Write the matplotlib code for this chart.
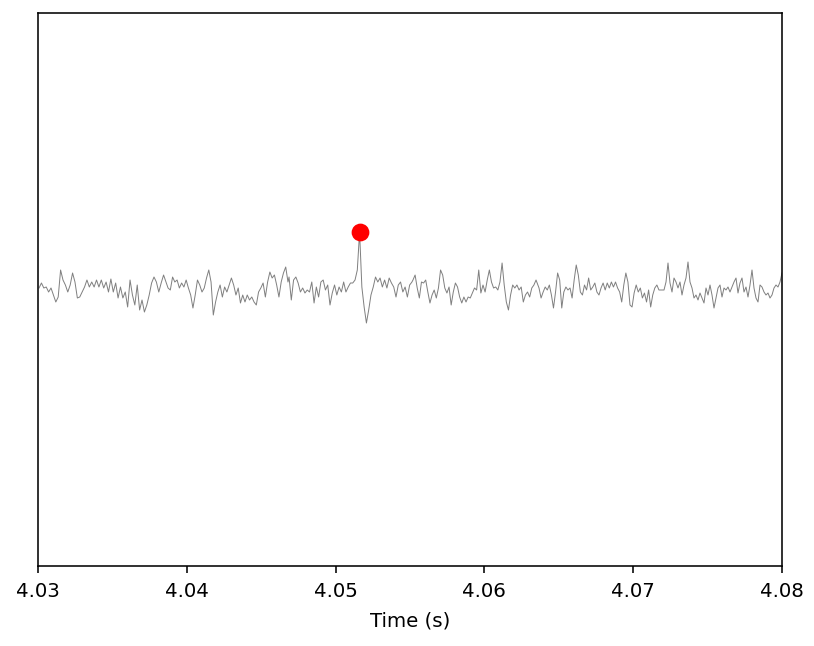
import numpy as np
import matplotlib
matplotlib.use("Agg")
import matplotlib.pyplot as plt

# ----------------------------------------------------
# Trace values, in six consecutive chunks
# (arbitrary amplitude units, baseline at 0)
# ----------------------------------------------------

chunk_1 = [1, 6, 1, 2, -3, 1, -6, -13, -8, 19, 9, 4, -3, 4, 16, 7, -9, -8, -3, 2,
           9, 2, 7, 2, 9, 2, 9, 1, 7, -3, 10, -3, 6, -9, 2, -9, -3, -18, 9, -6,
           -16, 4, -21, -11, -23, -16, -6, 6, 12, 7, -3, 6, 14, 7]

chunk_2 = [1, -1, 12, 7, 9, 1, 6, 2, 9, 1, -6, -19, -6, 9, 4, -3, 1, 11, 19, 7,
           -26, -13, -3, 4, -8, 2, -3, 4, 11, 4, -6, 1, -14, -6, -13, -6, -11, -8, -13, -16,
           -3, 1, 6, -8, 7, 17, 11, 14, 4, -8, 7, 16, 22, 7]

chunk_3 = [12, -11, 9, 12, 6, -3, 1, -4, -1, -3, 7, -14, 2, -8, 7, 9, -1, 4, -16, -4,
           4, -6, 2, -3, 7, -3, 2, 6, 6, 9, 19, 57, 2, -18, -34, -21, -6, 2, 12, 7,
           11, 2, 9, 1, 11, 6, 2, -8, 4, 7, -3, 2, -8, 4, 7]

chunk_4 = [9, 14, 1, -9, 7, 6, 9, -3, -14, -6, -1, -9, 1, 19, 14, 1, -4, 2, -16, -3,
           6, 2, -8, -14, -8, -13, -8, -9, -4, 1, -1, 19, -4, 4, -3, 9, 19, 7, 1, 2,
           -1, 7, 26, 4, -13, -21, -6, 4, 1, 4, -1, 2, -13, -6, -3, -8, 1, 4, 9]

chunk_5 = [1, -9, -3, 2, -1, 4, -6, -19, -3, 16, 9, -19, -3, 2, -1, 1, -9, 9, 24, 14,
           -3, -6, 4, -1, 11, -1, 2, 6, -3, -6, 1, 6, -1, 6, 1, 7, 2, 7, 1, -3,
           -13, 4, 16, 7, -16, -18, -4, 4, -3, 1, -9, -4, -13, -1, -18, -6, 1, 4, -1]

chunk_6 = [-1, 7, 26, 6, -3, 11, 7, 1, 7, -6, 4, 11, 27, 7, 1, -9, -6, -11, -4, -9,
           -14, 1, -6, 4, -6, -19, -9, 1, 4, -8, 1, -1, 2, -3, 2, 7, 11, -4, 6, 11,
           -3, 2, -8, 4, 19, 1, -9, -13, 4, 2, -3, -6, -4, -9, -6, 1, 4, 2, 7, 16]

# start / end time (s) of each chunk
chunk_bounds = [(4.03007, 4.03860), (4.03874, 4.04680), (4.04687, 4.05513),
                (4.05520, 4.06347), (4.06367, 4.07173), (4.07207, 4.08000)]

x_ticks = [4.03, 4.04, 4.05, 4.06, 4.07, 4.08]

# ----------------------------------------------------
# Build time / signal arrays
# ----------------------------------------------------

chunks = [chunk_1, chunk_2, chunk_3, chunk_4, chunk_5, chunk_6]

time = np.concatenate([
    np.linspace(t0, t1, len(c)) for c, (t0, t1) in zip(chunks, chunk_bounds)
])
signal = np.concatenate([np.array(c, dtype=float) for c in chunks])

peak = np.argmax(signal)

# ----------------------------------------------------
# Plot
# ----------------------------------------------------

DPI = 142

fig = plt.figure(figsize=(814 / DPI, 646 / DPI), dpi=DPI)
ax = fig.add_axes([38 / 814, 1 - 566 / 646, 744 / 814, 553 / 646])

ax.plot(time, signal, color="gray", linewidth=0.5)

ax.plot(time[peak], signal[peak], "o", color="red", markersize=8)

ax.set_xlim(4.03, 4.08)
ax.set_ylim(-277, 276)

ax.set_xticks(x_ticks)
ax.set_xticklabels([f"{t:.2f}" for t in x_ticks])
ax.tick_params(axis="x", pad=4.5)
ax.set_yticks([])

ax.set_xlabel("Time (s)", labelpad=5.5)

fig.savefig("out.png", dpi=DPI)
